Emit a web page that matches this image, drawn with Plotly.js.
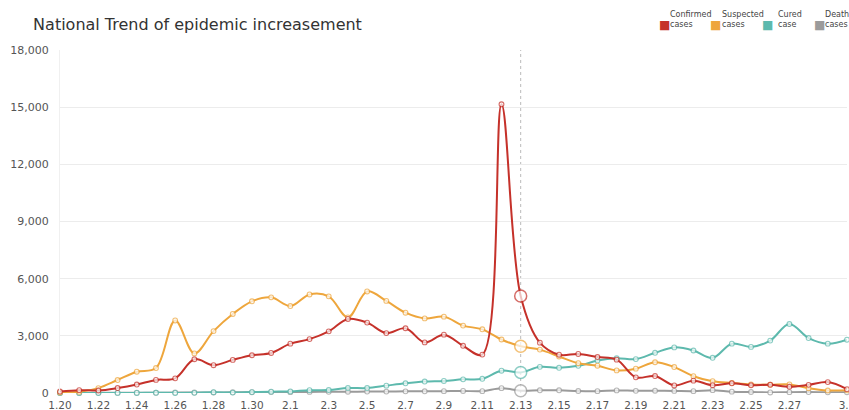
<!DOCTYPE html>
<html>
<head>
<meta charset="utf-8">
<script src="https://cdn.plot.ly/plotly-3.0.1.min.js"></script>
<style>html,body{margin:0;padding:0;background:#fff;}#chart{width:849px;height:410px;}</style>
</head>
<body>
<div id="chart"></div>
<script>
const dates = ["1.20","1.21","1.22","1.23","1.24","1.25","1.26","1.27","1.28","1.29","1.30","1.31",
  "2.1","2.2","2.3","2.4","2.5","2.6","2.7","2.8","2.9","2.10","2.11","2.12","2.13","2.14","2.15",
  "2.16","2.17","2.18","2.19","2.20","2.21","2.22","2.23","2.24","2.25","2.26","2.27","2.28","2.29","3.1"];
const confirmed = [77,149,131,259,444,688,769,1771,1459,1737,1982,2102,2590,2829,3235,3887,3694,3143,3399,2656,3062,2478,2015,15152,5090,2641,2009,2048,1886,1749,820,889,397,648,409,508,406,433,327,427,573,202];
const suspected = [27,60,257,680,1118,1309,3806,2077,3248,4148,4812,5019,4562,5173,5072,3971,5328,4833,4214,3916,4008,3536,3342,2807,2450,2277,1918,1563,1432,1185,1277,1614,1361,882,620,530,452,439,452,248,132,141];
const cured = [0,0,0,6,3,11,2,9,43,21,47,72,85,147,157,262,261,387,510,600,632,716,744,1171,1081,1373,1323,1425,1701,1824,1779,2109,2393,2231,1846,2589,2419,2750,3622,2884,2589,2796];
const death = [0,3,8,8,16,15,24,26,26,38,43,46,45,57,64,65,73,73,86,89,97,108,97,254,121,143,142,105,98,136,114,118,109,97,150,71,52,29,44,47,35,42];
const seriesTop = ["Confirmed","Suspected","Cured","Death"];
const seriesBottom = ["cases","cases","case","cases"];
const seriesColors = ["#c5312a","#eea63c","#5db9ad","#9b9b9b"];
const tickDates = ["1.20","1.22","1.24","1.26","1.28","1.30","2.1","2.3","2.5","2.7","2.9","2.11","2.13","2.15","2.17","2.19","2.21","2.23","2.25","2.27","3.1"];
const focusDate = "2.13";
const yTicks = [0,3000,6000,9000,12000,15000,18000];

const FONT = "DejaVu Sans, Verdana, sans-serif";
const allSeries = [confirmed, suspected, cured, death];
const traces = [];
// draw back to front: death, cured, suspected, confirmed
[3,2,1,0].forEach(k => {
  const vals = allSeries[k];
  const sizes = dates.map(d => d === focusDate ? 12 : 4.8);
  const lw = dates.map(d => d === focusDate ? 1.5 : 1.1);
  traces.push({
    x: dates, y: vals, type: "scatter", mode: "lines+markers",
    name: seriesTop[k] + " " + seriesBottom[k],
    line: {color: seriesColors[k], width: 2, shape: "spline", smoothing: 1},
    marker: {color: "#ffffff", size: sizes, line: {color: seriesColors[k], width: lw}},
    cliponaxis: false, showlegend: false, hoverinfo: "skip"
  });
});

// legend built from annotations (plot: x 60..847 px, y 393..50 px)
const W = 787, H = 343, L = 60, B = 393;
const px = v => (v - L) / W;
const py = v => (B - v) / H;
const swatchX = [657, 708, 760, 812];
const textX = [668, 720, 776, 823];
const annotations = [];
seriesTop.forEach((name, k) => {
  annotations.push({xref: "paper", yref: "paper", x: px(swatchX[k]), y: py(25), xanchor: "left", yanchor: "middle",
    text: "■", showarrow: false, font: {size: 12, color: seriesColors[k], family: FONT}});
  annotations.push({xref: "paper", yref: "paper", x: px(textX[k]), y: py(20), xanchor: "left", yanchor: "middle",
    align: "left", text: name + "<br>" + seriesBottom[k], showarrow: false,
    font: {size: 8, color: "#444", family: FONT}});
});

const focusIndex = dates.indexOf(focusDate);
const layout = {
  width: 849, height: 410,
  margin: {l: 60, r: 2, t: 50, b: 17},
  paper_bgcolor: "#ffffff", plot_bgcolor: "#ffffff",
  font: {family: FONT, color: "#555", size: 11},
  title: {text: "National Trend of epidemic increasement", x: 0.039, xanchor: "left", y: 0.94, yanchor: "middle",
    font: {size: 16, color: "#333", family: FONT}},
  xaxis: {type: "category", range: [0, dates.length - 1], tickmode: "array", tickvals: tickDates, ticktext: tickDates,
    showgrid: false, zeroline: false, showline: false, ticks: "", ticklabelstandoff: 4,
    tickfont: {size: 10.5, color: "#555", family: FONT}, fixedrange: true},
  yaxis: {range: [0, 18000], tickmode: "array", tickvals: yTicks, tickformat: ",d",
    showgrid: true, gridcolor: "#ececec", gridwidth: 1, zeroline: false, showline: true, linecolor: "#f0f0f0",
    ticks: "", ticklabelstandoff: 8, tickfont: {size: 11, color: "#555", family: FONT}, fixedrange: true},
  annotations: annotations,
  shapes: [{type: "line", xref: "x", yref: "paper", x0: focusIndex, x1: focusIndex, y0: 0, y1: 1,
    line: {color: "#bbbbbb", width: 1, dash: "dot"}, layer: "below"}],
  showlegend: false
};
Plotly.newPlot("chart", traces, layout, {displayModeBar: false, staticPlot: true});
</script>
</body>
</html>
